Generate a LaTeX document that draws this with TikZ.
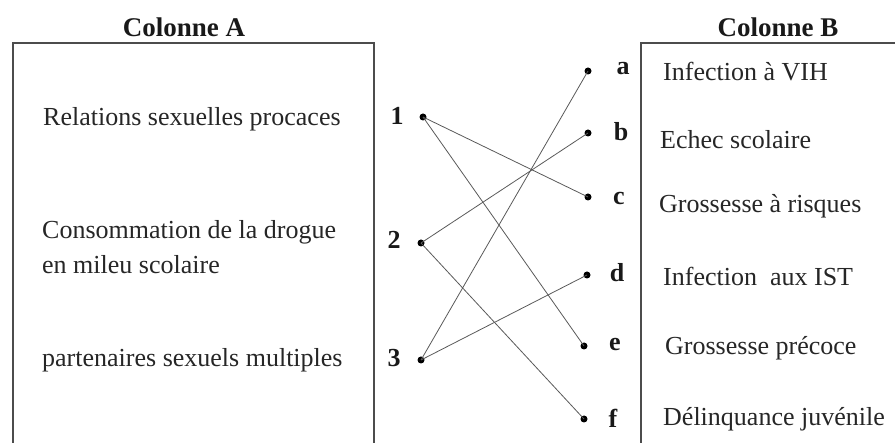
\documentclass[tikz,border=0pt]{standalone}
\usepackage{fontspec}
\setmainfont{Liberation Serif}
\begin{document}
\begin{tikzpicture}[x=1pt,y=-1pt,
  txt/.style={anchor=west,inner sep=0pt,font=\fontsize{26}{33}\selectfont,text=black!85},
  lbl/.style={inner sep=0pt,font=\fontsize{26}{30}\selectfont\bfseries,text=black!90},
  ttl/.style={inner sep=0pt,font=\fontsize{27}{30}\selectfont\bfseries,text=black!90},
  pt/.style={circle,fill=black,inner sep=0pt,minimum size=7pt},
  link/.style={draw=black!65,line width=0.8pt},
  frame/.style={draw=black!70,line width=1.8pt}]
\useasboundingbox (0,0) rectangle (895,443);
% boxes
\draw[frame] (13,460) -- (13,43) -- (374,43) -- (374,460);
\draw[frame] (641,460) -- (641,43) -- (900,43);
% titles
\node[ttl] (tA) at (184,27) {Colonne A};
\node[ttl] (tB) at (778,27) {Colonne B};
% column A texts
\node[txt] (A1) at (43,119) {Relations sexuelles procaces};
\node[txt] (A2a) at (42,232) {Consommation de la drogue};
\node[txt] (A2b) at (42,265) {en mileu scolaire};
\node[txt] (A3) at (42,360) {partenaires sexuels multiples};
% numbers
\node[lbl] (n1) at (397,116) {1};
\node[lbl] (n2) at (394,240) {2};
\node[lbl] (n3) at (394,358) {3};
\node[pt] (p1) at (423,117) {};
\node[pt] (p2) at (421,243) {};
\node[pt] (p3) at (421,360) {};
% letters
\node[pt] (pa) at (588,71) {};
\node[pt] (pb) at (588,133) {};
\node[pt] (pc) at (588,197) {};
\node[pt] (pd) at (587,275) {};
\node[pt] (pe) at (584,346) {};
\node[pt] (pf) at (584,419) {};
\node[lbl] (la) at (623,69) {a};
\node[lbl] (lb) at (621,132) {b};
\node[lbl] (lc) at (619,198) {c};
\node[lbl] (ld) at (617,273) {d};
\node[lbl] (le) at (615,345) {e};
\node[lbl] (lf) at (613,418) {f};
% column B texts
\node[txt] (B1) at (663,72) {Infection à VIH};
\node[txt] (B2) at (660,140) {Echec scolaire};
\node[txt] (B3) at (659,206) {Grossesse à risques};
\node[txt] (B4) at (663,276) {Infection \ aux IST};
\node[txt] (B5) at (665,348) {Grossesse précoce};
\node[txt] (B6) at (663,419) {Délinquance juvénile};
% links
\draw[link] (p1.center) -- (pc.center);
\draw[link] (p1.center) -- (pe.center);
\draw[link] (p2.center) -- (pb.center);
\draw[link] (p2.center) -- (pf.center);
\draw[link] (p3.center) -- (pa.center);
\draw[link] (p3.center) -- (pd.center);
\end{tikzpicture}
\end{document}
